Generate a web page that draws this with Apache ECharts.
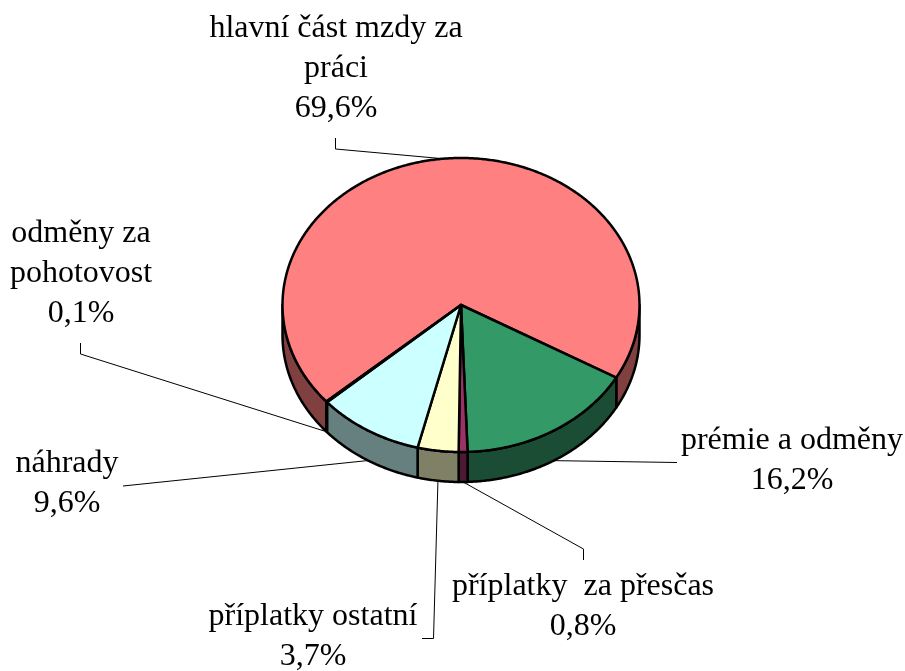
<!DOCTYPE html>
<html>
<head>
<meta charset="utf-8">
<script src="https://cdn.jsdelivr.net/npm/echarts@6/dist/echarts.min.js"></script>
<style>
html,body{margin:0;padding:0;background:#fff;}
#chart{width:905px;height:671px;}
</style>
</head>
<body>
<div id="chart"></div>
<script>
// ---- data ----
const categories = ['hlavní část mzdy za\npráci', 'prémie a odměny', 'příplatky  za přesčas', 'příplatky ostatní', 'náhrady', 'odměny za\npohotovost'];
const values = [69.6, 16.2, 0.8, 3.7, 9.6, 0.1];

// ---- styles ----
const topColors = ['#FF8080', '#339966', '#993366', '#FFFFCC', '#CCFFFF', '#660066'];
const sideColors = ['#804040', '#1A4D33', '#4D1A33', '#808066', '#668080', '#330033'];

// ---- layout ----
const CX = 461, CY = 305, RX = 178.5, RY = 147, DEPTH = 30, START = 139;
const FONT_FAMILY = 'Liberation Serif';
const FONT_SIZE = 32;
const LINE_H = 40;
// label center x, first baseline y, leader path points (label side first)
const labelLayout = [
  { x: 336, y: 40,  path: [[335.5, 138], [335.5, 149]] },
  { x: 792, y: 452, path: [[677, 462.5]] },
  { x: 583, y: 598, path: [[583.5, 560], [583.5, 549]] },
  { x: 313, y: 628, path: [[422, 638.5], [433.5, 638.5]] },
  { x: 67,  y: 475, path: [[123, 486]] },
  { x: 81,  y: 245, path: [[80.5, 343], [80.5, 354]] }
];

function fmt(v) { return v.toFixed(1).replace('.', ',') + '%'; }

function pt(t, dy) {
  const r = t * Math.PI / 180;
  return [CX + RX * Math.cos(r), CY + RY * Math.sin(r) + (dy || 0)];
}
function arc(a, b, dy) {
  const pts = [];
  const n = Math.max(2, Math.ceil((b - a) / 0.5));
  for (let i = 0; i <= n; i++) pts.push(pt(a + (b - a) * i / n, dy));
  return pts;
}

const total = values.reduce((s, v) => s + v, 0);
const starts = [];
let acc = START;
values.forEach(v => { starts.push(acc); acc += v / total * 360; });

function renderItem(params, api) {
  const i = params.dataIndex;
  const v = values[i];
  const s = starts[i];
  const e = s + v / total * 360;
  const children = [];
  [[0, 180], [360, 540]].forEach(([lo, hi]) => {
    const a = Math.max(s, lo), b = Math.min(e, hi);
    if (b > a) {
      const top = arc(a, b, 0);
      const bot = arc(a, b, DEPTH).reverse();
      children.push({
        type: 'polygon',
        shape: { points: top.concat(bot) },
        style: { fill: sideColors[i], stroke: '#000', lineWidth: 2.5, lineJoin: 'round' }
      });
    }
  });
  children.push({
    type: 'polygon',
    shape: { points: [[CX, CY]].concat(arc(s, e, 0)) },
    style: { fill: topColors[i], stroke: '#000', lineWidth: 2.5, lineJoin: 'round' }
  });
  const mid = (s + e) / 2;
  const midN = ((mid % 360) + 360) % 360;
  const anchor = pt(mid, midN < 180 ? DEPTH : 0);
  const L = labelLayout[i];
  children.push({
    type: 'polyline',
    shape: { points: L.path.concat([anchor]) },
    style: { stroke: '#000', lineWidth: 1, fill: null }
  });
  const lines = categories[i].split('\n').concat([fmt(v)]);
  lines.forEach((t, k) => {
    children.push({
      type: 'text',
      style: {
        text: t, x: L.x, y: L.y + k * LINE_H - 11,
        align: 'center', verticalAlign: 'middle',
        fontFamily: FONT_FAMILY, fontSize: FONT_SIZE,
        fill: '#000'
      }
    });
  });
  return { type: 'group', children: children };
}

const chart = echarts.init(document.getElementById('chart'), null, { renderer: 'canvas' });
chart.setOption({
  animation: false,
  backgroundColor: '#fff',
  series: [{
    type: 'custom',
    coordinateSystem: 'none',
    silent: true,
    renderItem: renderItem,
    data: values.map((v, i) => ({ value: v, name: categories[i] }))
  }]
});
</script>
</body>
</html>
